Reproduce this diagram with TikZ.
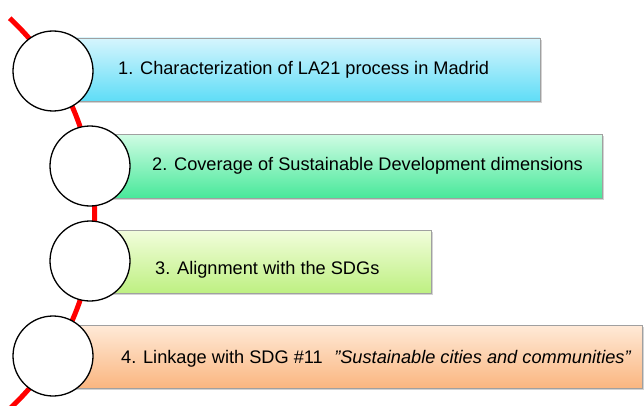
\documentclass[tikz,border=0pt]{standalone}
\usepackage{fontspec}
\setmainfont{Liberation Sans}
\usetikzlibrary{shadows}
\definecolor{cyanTop}{RGB}{214,245,253}
\definecolor{cyanBot}{RGB}{95,221,247}
\definecolor{greenTop}{RGB}{208,252,228}
\definecolor{greenBot}{RGB}{72,232,154}
\definecolor{limeTop}{RGB}{242,253,220}
\definecolor{limeBot}{RGB}{190,240,130}
\definecolor{peachTop}{RGB}{255,234,216}
\definecolor{peachBot}{RGB}{250,182,128}
\definecolor{boxBorder}{RGB}{160,160,160}
\newcommand{\sq}{\symbol{34}}
\begin{document}
\begin{tikzpicture}[x=1pt,y=1pt,
  stepbox/.style={draw=boxBorder, line width=0.9pt,
    drop shadow={shadow xshift=1.6pt, shadow yshift=-1.6pt, opacity=0.35}},
  ring/.style={circle, draw=black, line width=1.3pt, fill=white, minimum size=80pt, inner sep=0pt},
  label/.style={anchor=base west, inner sep=0pt, font=\fontsize{18.2}{20}\selectfont},
  redline/.style={draw=red, line width=5pt}]
\useasboundingbox (0,0) rectangle (644,405);
% red arc
\draw[redline] (-172.4,191.5) ++(47:267) arc[start angle=47, end angle=-50, radius=267];
% boxes
\path[stepbox, top color=cyanTop, bottom color=cyanBot] (53,304) rectangle (540,367);
\path[stepbox, top color=greenTop, bottom color=greenBot] (90,207) rectangle (602,271);
\path[stepbox, top color=limeTop, bottom color=limeBot] (90,112) rectangle (431,175);
\path[stepbox, top color=peachTop, bottom color=peachBot] (53,17) rectangle (642,80);
% circles
\node[ring] (c1) at (53,334) {};
\node[ring] (c2) at (90,239) {};
\node[ring] (c3) at (90,144) {};
\node[ring] (c4) at (53,49) {};
% labels
\node[label] (t1) at (118,330) {1. Characterization of LA21 process in Madrid};
\node[label] (t2) at (152,235) {2. Coverage of Sustainable Development dimensions};
\node[label] (t3) at (155,131) {3. Alignment with the SDGs};
\node[label] (t4) at (121,42) {4. Linkage with SDG \#11\hspace{0.35em} \textit{\sq Sustainable cities and communities\sq}};
\end{tikzpicture}
\end{document}
